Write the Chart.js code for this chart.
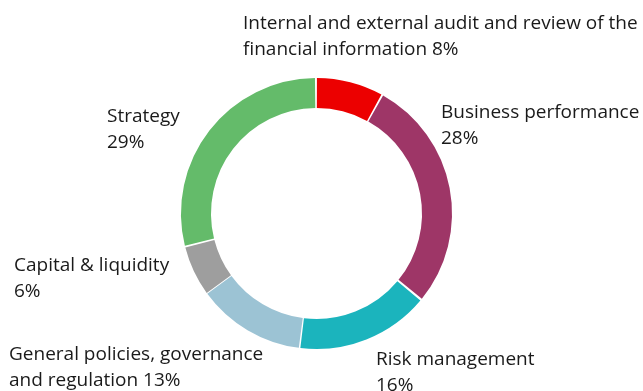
<!DOCTYPE html>
<html>
<head>
<meta charset="utf-8">
<script src="https://cdn.jsdelivr.net/npm/chart.js@4"></script>
<style>
  html, body { margin: 0; padding: 0; background: #fff; }
  #wrap { width: 643px; height: 391px; position: relative; }
</style>
</head>
<body>
<div id="wrap"><canvas id="myChart" width="643" height="391"></canvas></div>
<script>
// Datos del gráfico
const categorias = [
    'Internal and external audit and review of the financial information',
    'Business performance',
    'Risk management',
    'General policies, governance and regulation',
    'Capital & liquidity',
    'Strategy'
];
const porcentajes = [8, 28, 16, 13, 6, 29];
const colores = ['#ec0000', '#9e3667', '#1bb4bd', '#9cc3d4', '#9e9e9e', '#64bb6a'];

// Etiquetas (líneas de texto) y su posición en el lienzo
const etiquetas = [
    ['Internal and external audit and review of the', 'financial information 8%'],
    ['Business performance', '28%'],
    ['Risk management', '16%'],
    ['General policies, governance', 'and regulation 13%'],
    ['Capital & liquidity', '6%'],
    ['Strategy', '29%']
];
const posEtiquetas = [[243, 24], [441, 113], [376, 360], [9, 355], [14, 266], [107, 117]];

// Plugin para dibujar las etiquetas
const etiquetasPlugin = {
    id: 'etiquetas',
    afterDraw(chart) {
        const c = chart.ctx;
        c.save();
        c.fillStyle = '#1a1a1a';
        c.font = '19px "Open Sans"';
        c.textBaseline = 'middle';
        c.textAlign = 'left';
        etiquetas.forEach((lineas, i) => {
            const [x, y] = posEtiquetas[i];
            lineas.forEach((t, j) => c.fillText(t, x, y + j * 25.5));
        });
        c.restore();
    }
};

const ctx = document.getElementById('myChart').getContext('2d');
new Chart(ctx, {
    type: 'doughnut',
    data: {
        labels: categorias,
        datasets: [{
            data: porcentajes,
            backgroundColor: colores,
            borderWidth: 0,
            spacing: 3
        }]
    },
    options: {
        responsive: false,
        animation: false,
        cutout: 104,
        layout: { padding: { left: 181, right: 191, top: 78, bottom: 42 } },
        plugins: {
            legend: { display: false },
            tooltip: { enabled: false }
        }
    },
    plugins: [etiquetasPlugin]
});
</script>
</body>
</html>
